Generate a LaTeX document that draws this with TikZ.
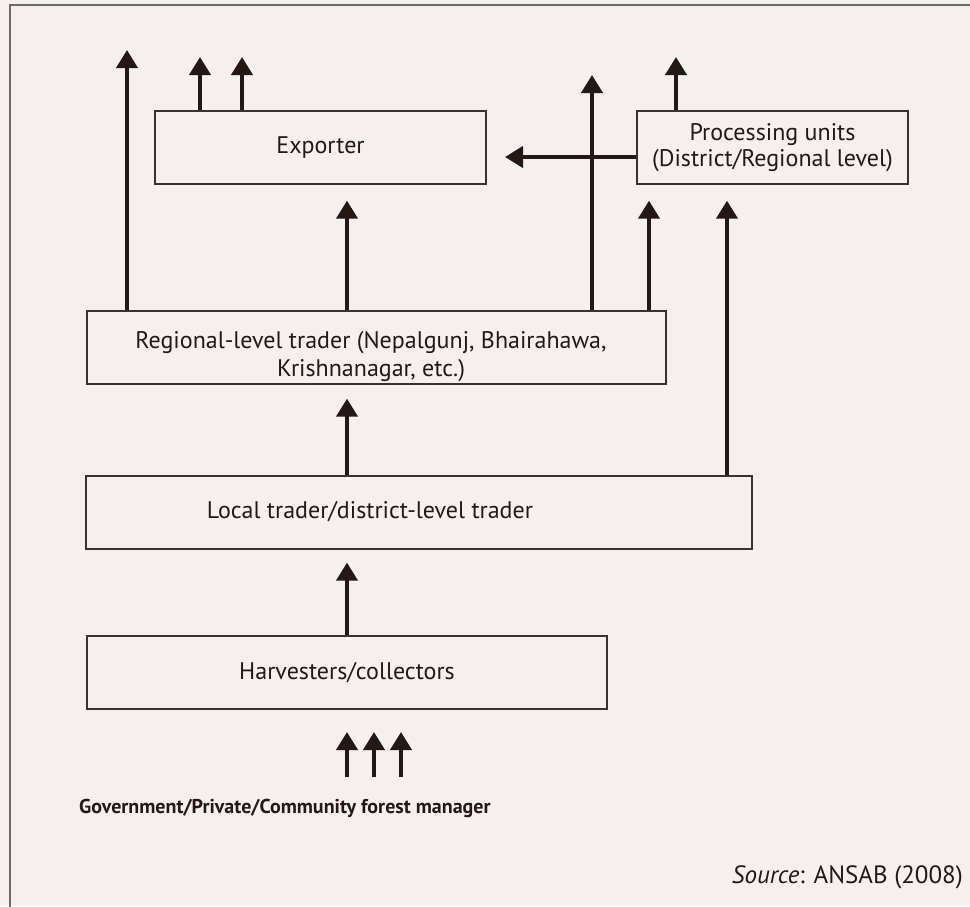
\documentclass[tikz,border=0pt]{standalone}
\usepackage{fontspec}
\setmainfont{PT Sans}
\usetikzlibrary{arrows.meta,calc}
\definecolor{bgc}{HTML}{F5EFEF}
\definecolor{ink}{HTML}{231815}
\definecolor{boxc}{HTML}{3A3030}
\definecolor{framec}{HTML}{6E6A6A}
\tikzset{
  box/.style={draw=boxc, line width=1.3pt, inner sep=0pt, font=\fontsize{24}{26}\selectfont, text=ink, align=center},
  arr/.style={draw=ink, line width=4pt, -{Triangle[length=18pt,width=21pt]}},
  lbl/.style={inner sep=0pt, text=ink, font=\fontsize{24}{28}\selectfont, align=center}
}
\begin{document}
\begin{tikzpicture}[x=1pt,y=-1pt]
\fill[bgc] (0,0) rectangle (970,906);
\useasboundingbox (0,0) rectangle (970,906);
\draw[framec, line width=1.5pt] (975,5) -- (10,5) -- (10,915);

% boxes
\node[box, minimum width=331pt, minimum height=73pt] (exp) at (320.5,147.5) {Exporter};
\node[box, minimum width=271pt, minimum height=73pt] (proc) at (772.5,147.5) {Processing units\\(District/Regional level)};
\node[box, minimum width=579pt, minimum height=73pt] (reg) at (376.5,347.5) {};
\node[lbl] (regt) at (371,357) {Regional-level trader (Nepalgunj, Bhairahawa,\\Krishnanagar, etc.)};
\node[box, minimum width=666pt, minimum height=73pt] (loc) at (419,512.5) {};
\node[lbl] (loct) at (370,512) {Local trader/district-level trader};
\node[box, minimum width=520pt, minimum height=73pt] (harv) at (347,672.5) {Harvesters/collectors};

\node[lbl, anchor=west, font=\fontsize{20}{24}\selectfont\bfseries] (gov) at (79,808) {Government/Private/Community forest manager};
\node[lbl, anchor=east, font=\fontsize{25}{28}\selectfont] (src) at (963,877) {\textit{Source}: ANSAB (2008)};

% x positions
\coordinate (x127) at (127,0);
\coordinate (x200) at (200,0);
\coordinate (x242) at (242,0);
\coordinate (x347) at (347,0);
\coordinate (x592) at (592,0);
\coordinate (x649) at (649,0);
\coordinate (x676) at (676,0);
\coordinate (x727) at (727,0);

% free ends
\coordinate (t127) at (127,50);
\coordinate (t200) at (200,57);
\coordinate (t242) at (242,57);
\coordinate (t592) at (592,75);
\coordinate (t676) at (676,57);
\coordinate (hl) at (505,157);

% arrows
\draw[arr] (reg.north -| x127) -- (t127);
\draw[arr] (exp.north -| x200) -- (t200);
\draw[arr] (exp.north -| x242) -- (t242);
\draw[arr] (proc.north -| x676) -- (t676);
\draw[arr] (reg.north -| x592) -- (t592);
\draw[arr] (proc.west |- hl) -- (hl);
\draw[arr, shorten >=16pt] (reg.north -| x347) -- (exp.south -| x347);
\draw[arr, shorten >=16pt] (reg.north -| x649) -- (proc.south -| x649);
\draw[arr, shorten >=16pt] (loc.north -| x727) -- (proc.south -| x727);
\draw[arr, shorten >=14pt] (loc.north -| x347) -- (reg.south -| x347);
\draw[arr, shorten >=13pt] (harv.north -| x347) -- (loc.south -| x347);

\coordinate (b347) at (347,777);
\coordinate (b374) at (374,777);
\coordinate (b401) at (401,777);
\draw[arr] (b347) -- ($(b347)+(0,-45)$);
\draw[arr] (b374) -- ($(b374)+(0,-45)$);
\draw[arr] (b401) -- ($(b401)+(0,-45)$);
\end{tikzpicture}
\end{document}
